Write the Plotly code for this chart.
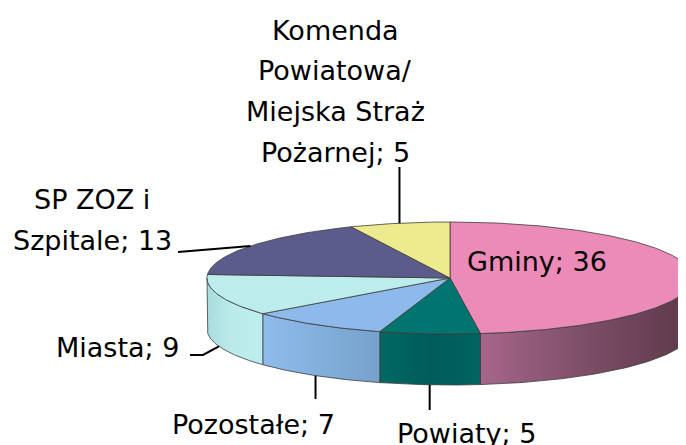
import numpy as np
import plotly.graph_objects as go

# ---- data ----
categories = ["Gminy", "Powiaty", "Pozostałe", "Miasta", "SP ZOZ i\nSzpitale",
              "Komenda\nPowiatowa/\nMiejska Straż\nPożarnej"]
values = [36, 5, 7, 9, 13, 5]
top_colors = ["#EC8BB8", "#007570", "#8DBAEA", "#BCEDEC", "#5C5C8C", "#EDEB8D"]
side_scales = [
    [[0, "#A6668A"], [0.45, "#80506A"], [1, "#5C3849"]],
    [[0, "#006864"], [0.5, "#005C5A"], [1, "#006461"]],
    [[0, "#8EBCEC"], [1, "#76A1CB"]],
    [[0, "#A9DCDD"], [0.4, "#BAEAEA"], [1, "#BDEDED"]],
    [[0, "#4E4E78"], [1, "#4E4E78"]],
    [[0, "#C9C878"], [1, "#C9C878"]],
]

# ---- layout geometry (screen pixel space; page body has an 8px margin) ----
W, H = 686, 445
OFF = 8
CX, CY, RX, RY, DEPTH = 450, 278, 243, 56, 51
OUTLINE = "#3C3C3C"

# label placement: (x, first line centre y, line spacing)
label_pos = [(537, 259, 0), (466, 431, 0), (253, 422, 0), (117, 345, 0),
             (92, 197, 41), (335, 28, 40.7)]


def pt(a, dy=0.0):
    r = np.radians(a)
    return CX + RX * np.sin(r), CY - RY * np.cos(r) + dy


total = sum(values)
bounds = np.concatenate([[0], np.cumsum(values)]) / total * 360.0

fig = go.Figure()

# sides (front half of the cylinder, angles 90..270 measured clockwise from top)
for i, v in enumerate(values):
    a0, a1 = bounds[i], bounds[i + 1]
    s0, s1 = max(a0, 90), min(a1, 270)
    if s1 <= s0:
        continue
    ang = np.linspace(s0, s1, 80)
    xt, yt = pt(ang)
    xb, yb = pt(ang[::-1], DEPTH)
    xs = np.concatenate([xt, xb, xt[:1]])
    ys = np.concatenate([yt, yb, yt[:1]])
    fig.add_trace(go.Scatter(
        x=xs, y=ys, mode="lines", fill="toself",
        fillgradient=dict(type="horizontal", colorscale=side_scales[i]),
        line=dict(color=OUTLINE, width=0.8), hoverinfo="skip", showlegend=False))

# tops
for i, v in enumerate(values):
    a0, a1 = bounds[i], bounds[i + 1]
    ang = np.linspace(a0, a1, max(8, int((a1 - a0) * 1.5)))
    xa, ya = pt(ang)
    xs = np.concatenate([[CX], xa, [CX]])
    ys = np.concatenate([[CY], ya, [CY]])
    fig.add_trace(go.Scatter(
        x=xs, y=ys, mode="lines", fill="toself", fillcolor=top_colors[i],
        line=dict(color=OUTLINE, width=0.8), hoverinfo="skip", showlegend=False))

# labels
for i, (cat, v) in enumerate(zip(categories, values)):
    lines = (cat + f"; {v}").split("\n")
    lx, ly, sp = label_pos[i]
    for k, t in enumerate(lines):
        fig.add_annotation(x=lx, y=ly + k * sp + 2, text=t, showarrow=False,
                           xanchor="center", yanchor="middle",
                           font=dict(family="DejaVu Sans", size=27, color="#000000"))

# leader lines
mids = (bounds[:-1] + bounds[1:]) / 2
LC = dict(color="#000000", width=2)
kx, ky = pt(mids[5])
fig.add_shape(type="line", x0=kx, y0=ky, x1=kx, y1=167, line=LC)
sx, sy = pt(mids[4])
fig.add_shape(type="line", x0=sx, y0=sy, x1=178, y1=252, line=LC)
mx, my = pt(mids[3], DEPTH)
fig.add_trace(go.Scatter(x=[mx, 203, 190], y=[my, 355, 355], mode="lines",
                         line=LC, hoverinfo="skip", showlegend=False))
px_, py_ = pt(mids[2], DEPTH)
fig.add_shape(type="line", x0=px_, y0=py_, x1=px_, y1=399, line=LC)
wx, wy = pt(mids[1], DEPTH)
fig.add_shape(type="line", x0=wx, y0=wy, x1=wx, y1=410, line=LC)

fig.update_layout(
    width=W - OFF, height=H - OFF, margin=dict(l=0, r=0, t=0, b=0),
    paper_bgcolor="#FFFFFF", plot_bgcolor="#FFFFFF",
    xaxis=dict(range=[OFF, W], visible=False, fixedrange=True),
    yaxis=dict(range=[H, OFF], visible=False, fixedrange=True),
)

fig.write_html("out.html")
